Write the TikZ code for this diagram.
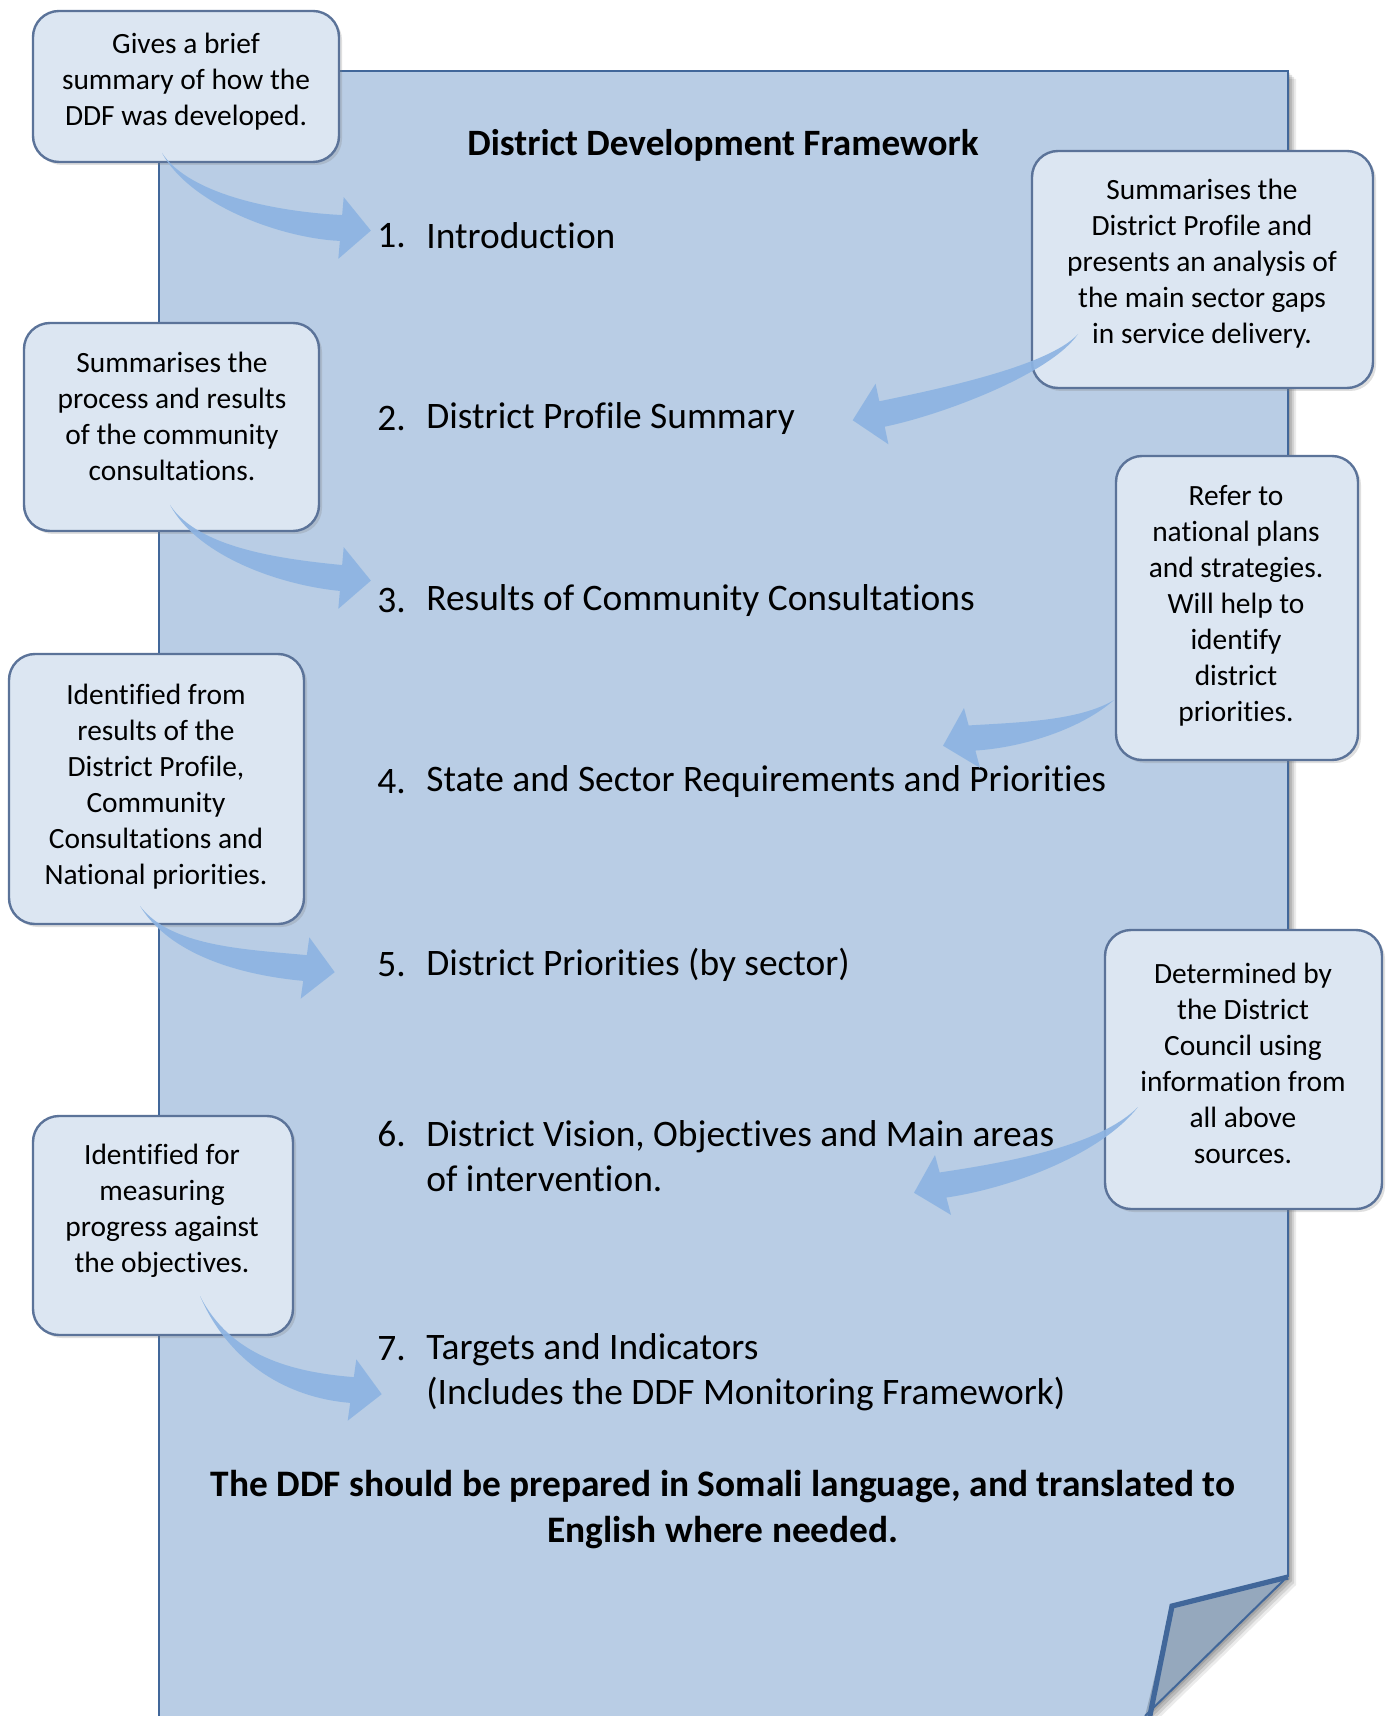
\documentclass[tikz,border=0pt]{standalone}
\usepackage{fontspec}
\setmainfont[Ligatures={NoCommon}]{Carlito}
\usetikzlibrary{calc,shadows}
\definecolor{pagefill}{HTML}{B9CDE5}
\definecolor{pageline}{HTML}{41679A}
\definecolor{boxfill}{HTML}{DCE6F2}
\definecolor{boxline}{HTML}{5B7399}
\definecolor{foldfill}{HTML}{95A8BD}
\definecolor{arrowblue}{HTML}{8DB4E2}
\newcommand{\tarrow}[5]{%
 \fill[arrowblue, opacity=0.92] (#1) .. controls ($(#2)+({#5+90}:4)$) and ($(#3)+({#5+90}:13)$) .. ($(#4)+({#5+90}:13)$) -- ($(#4)+({#5+90}:31)$) -- ($(#4)+(#5:30)$) -- ($(#4)+({#5-90}:31)$) -- ($(#4)+({#5-90}:13)$) .. controls ($(#3)+({#5-90}:13)$) and ($(#2)+({#5-90}:4)$) .. (#1) -- cycle;}
\tikzset{
 callout/.style={draw=boxline, line width=1.2pt, fill=boxfill, rounded corners=13pt,
   drop shadow={opacity=0.25, shadow xshift=1.5pt, shadow yshift=-1.5pt}},
 ctext/.style={align=center, font=\fontsize{14.7}{18}\selectfont, inner sep=0pt},
 itemnum/.style={anchor=west, inner sep=0pt, font=\fontsize{18.7}{22.5}\selectfont},
 itemtext/.style={anchor=west, inner sep=0pt, align=left, font=\fontsize{18.7}{22.5}\selectfont},
}
\begin{document}
\begin{tikzpicture}[x=0.5pt, y=-0.5pt]
\useasboundingbox (0,0) rectangle (1385,1716);
\clip (0,0) rectangle (1385,1716);
% page shadow
\foreach \s/\o in {2/0.12,4/0.12,6/0.10,8/0.08}{
 \fill[black, opacity=\o] (159+\s,71+\s) -- (1288+\s,71+\s) -- (1288+\s,1577+\s) -- (1145+\s,1716+\s) -- (1145+\s,1740) -- (159+\s,1740) -- cycle;}
% page
\fill[pagefill] (159,71) -- (1288,71) -- (1288,1577) -- (1172,1606) -- (1145,1740) -- (159,1740) -- cycle;
\fill[foldfill] (1288,1577) -- (1172,1606) -- (1145,1716) -- cycle;
\draw[pageline, line width=1pt] (1145,1716) -- (1284,1580);
\draw[pageline, line width=1.4pt] (159,1740) -- (159,71) -- (1288,71) -- (1288,1577);
\draw[pageline, line width=2.6pt, line join=miter] (1288,1577) -- (1172,1606) -- (1145,1740);

% title and items
\node[font=\bfseries\fontsize{18.6}{20}\selectfont, inner sep=0pt] (title) at (723,145) {District Development Framework};
\node[itemnum] (n1) at (377,236) {1.};
\node[itemtext] (i1) at (426,236) {Introduction};
\node[itemnum] (n2) at (377,419) {2.};
\node[itemtext] (i2) at (426,419) {District Profile Summary};
\node[itemnum] (n3) at (377,601) {3.};
\node[itemtext] (i3) at (426,601) {Results of Community Consultations};
\node[itemnum] (n4) at (377,782) {4.};
\node[itemtext] (i4) at (426,782) {State and Sector Requirements and Priorities};
\node[itemnum] (n5) at (377,965) {5.};
\node[itemtext] (i5) at (426,965) {District Priorities (by sector)};
\node[itemnum] (n6) at (377,1134) {6.};
\node[itemtext] (i6) at (426,1156.5) {District Vision, Objectives and Main areas\\of intervention.};
\node[itemnum] (n7) at (377,1349) {7.};
\node[itemtext] (i7) at (426,1372) {Targets and Indicators\\(Includes the DDF Monitoring Framework)};
\node[font=\bfseries\fontsize{18.7}{23}\selectfont, align=center, inner sep=0pt] (note) at (723,1510) {The DDF should be prepared in Somali language, and translated to\\English where needed.};

% callouts
\node[callout, minimum width=153pt, minimum height=75.5pt] (b1) at (186,86.5) {};
\node[ctext] (t1) at (186,82) {Gives a brief\\summary of how the\\DDF was developed.};
\node[callout, minimum width=170.5pt, minimum height=118.5pt] (b2) at (1202.5,269.5) {};
\node[ctext] (t2) at (1202,264) {Summarises the\\District Profile and\\presents an analysis of\\the main sector gaps\\in service delivery.};
\node[callout, minimum width=147.5pt, minimum height=104pt] (b3) at (171.5,427) {};
\node[ctext] (t3) at (172,416.5) {Summarises the\\process and results\\of the community\\consultations.};
\node[callout, minimum width=121pt, minimum height=152pt] (b4) at (1237,608) {};
\node[ctext] (t4) at (1236,605.5) {Refer to\\national plans\\and strategies.\\Will help to\\identify\\district\\priorities.};
\node[callout, minimum width=147.5pt, minimum height=135pt] (b5) at (156.5,789) {};
\node[ctext] (t5) at (156,787) {Identified from\\results of the\\District Profile,\\Community\\Consultations and\\National priorities.};
\node[callout, minimum width=138.5pt, minimum height=139.5pt] (b6) at (1243.5,1069.5) {};
\node[ctext] (t6) at (1243,1063.5) {Determined by\\the District\\Council using\\information from\\all above\\sources.};
\node[callout, minimum width=130pt, minimum height=109.5pt] (b7) at (163,1225.5) {};
\node[ctext] (t7) at (162,1211) {Identified for\\measuring\\progress against\\the objectives.};

% arrows
\coordinate (a1s) at (162,153); \coordinate (a1e) at (341,228);
\coordinate (a2s) at (1078,334); \coordinate (a2e) at (882,414);
\coordinate (a3s) at (170,505); \coordinate (a3e) at (341,578);
\coordinate (a4s) at (1114,700); \coordinate (a4e) at (972,738);
\coordinate (a5s) at (140,906); \coordinate (a5e) at (305,968);
\coordinate (a6s) at (1138,1107); \coordinate (a6e) at (943,1185);
\coordinate (a7s) at (200,1296); \coordinate (a7e) at (352,1390);
\tarrow{a1s}{190,200}{280,225}{a1e}{5}
\tarrow{a2s}{1050,370}{940,402}{a2e}{168}
\tarrow{a3s}{198,552}{280,572}{a3e}{5}
\tarrow{a4s}{1080,725}{1020,735}{a4e}{165}
\tarrow{a5s}{170,950}{240,962}{a5e}{8}
\tarrow{a6s}{1100,1150}{1010,1175}{a6e}{165}
\tarrow{a7s}{230,1360}{290,1385}{a7e}{8}
\end{tikzpicture}
\end{document}
